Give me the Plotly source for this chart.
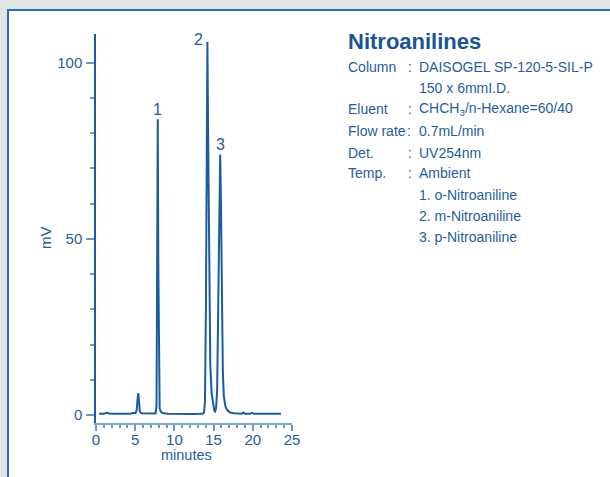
import plotly.graph_objects as go

# ---- data ----
time_min = [0.4, 1.0, 1.4, 1.7, 2.2, 3.0, 3.3, 3.7, 4.4, 4.8, 5.05, 5.2, 5.3, 5.4, 5.5, 5.6, 5.8,
            6.4, 7.2, 7.6, 7.72, 7.8, 7.88, 7.95, 8.02, 8.12, 8.3, 8.6, 9.2, 10.0, 11.0, 11.6,
            12.0, 12.5, 13.2, 13.6, 13.78, 13.9, 14.02, 14.12, 14.21, 14.3, 14.42, 14.58, 14.75,
            14.95, 15.1, 15.2, 15.32, 15.45, 15.58, 15.7, 15.84, 15.95, 16.05, 16.18, 16.3, 16.5,
            16.75, 17.1, 17.6, 18.2, 18.6, 18.8, 19.0, 19.6, 19.9, 20.1, 20.6, 21.5, 22.5, 23.6]
signal_mv = [0.3, 0.35, 0.6, 0.4, 0.3, 0.3, 0.1, 0.3, 0.35, 0.6, 0.5, 1.5, 4.5, 6.2, 3.5, 0.9, 0.5,
             0.4, 0.35, 0.4, 2.7, 35.0, 84.0, 42.0, 6.0, 1.8, 0.8, 0.45, 0.35, 0.3, 0.25, 0.15,
             0.3, 0.25, 0.3, 0.35, 0.7, 4.0, 30.0, 72.0, 106.0, 80.0, 40.0, 14.0, 6.0,
             2.5, 1.2, 1.0, 2.0, 7.0, 28.0, 58.0, 74.0, 58.0, 30.0, 12.0, 5.5, 2.5,
             1.3, 0.7, 0.5, 0.4, 0.35, 0.7, 0.35, 0.3, 0.6, 0.3, 0.3, 0.3, 0.3, 0.3]

peak_labels = ["1", "2", "3"]
peak_times = [7.88, 14.21, 15.84]
peak_heights = [84.0, 106.0, 74.0]

x_ticks = [0, 5, 10, 15, 20, 25]
y_ticks = [0, 50, 100]

title_text = "Nitroanilines"
info_labels = ["Column", "", "Eluent", "Flow rate", "Det.", "Temp.", "", "", ""]
info_colons = [":", "", ":", ":", ":", ":", "", "", ""]
info_values = ["DAISOGEL SP-120-5-SIL-P", "150 x 6mmI.D.", "CHCH<sub>3</sub>/n-Hexane=60/40",
               "0.7mL/min", "UV254nm", "Ambient", "1. o-Nitroaniline", "2. m-Nitroaniline",
               "3. p-Nitroaniline"]

# ---- style ----
BLUE = "#1a5c9c"
TXT = "#1f5d9c"
TICK = "#6f98c4"
FONT = "Liberation Sans, Arial, Helvetica"

L, R, T, B = 96, 292, 34, 423
W, H = 610, 477


def px_x(px):
    return (px - L) / (R - L)


def px_y(py):
    return (B - py) / (B - T)


fig = go.Figure()
fig.add_trace(go.Scatter(x=time_min, y=signal_mv, mode="lines",
                         line=dict(color=BLUE, width=2), hoverinfo="skip",
                         showlegend=False))

shapes = [
    dict(type="rect", xref="paper", yref="paper", x0=px_x(8), x1=px_x(640),
         y0=px_y(10), y1=px_y(520), fillcolor="white",
         line=dict(color="#2a6db5", width=2), layer="below"),
]

ann = []
# peak number labels
offsets = [(0, -1), (-9, -8), (0, -1)]
for lab, t, h, (dx, dy) in zip(peak_labels, peak_times, peak_heights, offsets):
    ann.append(dict(x=t, y=h, xref="x", yref="y", text=lab, showarrow=False,
                    xanchor="center", yanchor="bottom", xshift=dx, yshift=dy,
                    font=dict(family=FONT, size=16, color=TXT)))

# axis titles
ann.append(dict(x=px_x(45), y=px_y(238), xref="paper", yref="paper", text="mV",
                showarrow=False, textangle=-90, xanchor="center", yanchor="middle",
                font=dict(family=FONT, size=15, color=TXT)))
ann.append(dict(x=px_x(186), y=px_y(455), xref="paper", yref="paper", text="minutes",
                showarrow=False, xanchor="center", yanchor="middle",
                font=dict(family=FONT, size=14.5, color=TXT)))

# title
ann.append(dict(x=px_x(346), y=px_y(42), xref="paper", yref="paper", text="<b>" + title_text + "</b>",
                showarrow=False, xanchor="left", yanchor="middle",
                font=dict(family=FONT, size=22, color="#1a5592")))

row_y = [67.3, 88.3, 109.3, 130.7, 152.7, 173.3, 195, 216, 237.3]
for i, yy in enumerate(row_y):
    if info_labels[i]:
        ann.append(dict(x=px_x(346), y=px_y(yy), xref="paper", yref="paper", text=info_labels[i],
                        showarrow=False, xanchor="left", yanchor="middle",
                        font=dict(family=FONT, size=14, color=TXT)))
    if info_colons[i]:
        cx = 409 if info_labels[i] == "Flow rate" else 410
        ann.append(dict(x=px_x(cx), y=px_y(yy), xref="paper", yref="paper", text=info_colons[i],
                        showarrow=False, xanchor="center", yanchor="middle",
                        font=dict(family=FONT, size=14, color=TXT)))
    ann.append(dict(x=px_x(417), y=px_y(yy), xref="paper", yref="paper", text=info_values[i],
                    showarrow=False, xanchor="left", yanchor="middle",
                    font=dict(family=FONT, size=14, color=TXT)))

fig.update_layout(
    width=W, height=H, autosize=False,
    margin=dict(l=L, r=W - R, t=T, b=H - B, pad=0),
    paper_bgcolor="#e1e6e4", plot_bgcolor="rgba(0,0,0,0)",
    shapes=shapes, annotations=ann, showlegend=False,
    xaxis=dict(range=[0, 25], tickvals=x_ticks, showgrid=False, zeroline=False,
               showline=True, linecolor="#7ea5cd", linewidth=2,
               ticks="outside", ticklen=6, tickwidth=1.5, tickcolor=TICK,
               minor=dict(dtick=1, ticks="outside", ticklen=3, tickwidth=1.5, tickcolor=TICK),
               ticklabelstandoff=-4,
               tickfont=dict(family=FONT, size=15, color=TXT), fixedrange=True),
    yaxis=dict(range=[-2.3, 108.2], tickvals=y_ticks, showgrid=False, zeroline=False,
               showline=True, linecolor=BLUE, linewidth=1.5,
               ticks="outside", ticklen=8, tickwidth=2, tickcolor=TICK,
               minor=dict(dtick=10, ticks="outside", ticklen=4.5, tickwidth=1.5, tickcolor=TICK),
               ticklabelstandoff=1,
               tickfont=dict(family=FONT, size=15, color=TXT), fixedrange=True),
)

fig.write_html("out.html", config={"displayModeBar": False},
               post_script="document.body.style.margin='0';document.body.style.overflow='hidden';")
